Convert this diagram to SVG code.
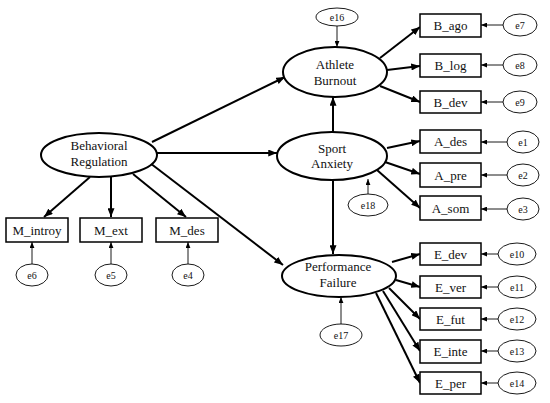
<svg xmlns="http://www.w3.org/2000/svg" width="550" height="403" viewBox="0 0 550 403">
<defs>
<marker id="ah" viewBox="0 0 10 8" refX="10" refY="4" markerWidth="9" markerHeight="7" markerUnits="userSpaceOnUse" orient="auto"><path d="M0,0 L10,4 L0,8 z" fill="#000"/></marker>
<marker id="as" viewBox="0 0 10 8" refX="10" refY="4" markerWidth="6" markerHeight="5" markerUnits="userSpaceOnUse" orient="auto"><path d="M0,0 L10,4 L0,8 z" fill="#000"/></marker>
<style>
.lat{fill:#fff;stroke:#000;stroke-width:2}
.box{fill:#fff;stroke:#000;stroke-width:1.5}
.err{fill:#fff;stroke:#000;stroke-width:0.9}
text{font-family:'Liberation Serif','DejaVu Serif',serif;fill:#111;text-anchor:middle}
.t{font-size:13px}
.te{font-size:10px}
.m{stroke:#000;stroke-width:2;fill:none;marker-end:url(#ah)}
.s{stroke:#000;stroke-width:0.9;fill:none;marker-end:url(#as)}
</style>
</defs>
<rect width="550" height="403" fill="#fff"/>
<g id="connectors">
<line class="m" x1="152" y1="142" x2="285" y2="77"/>
<line class="m" x1="157" y1="153" x2="277" y2="153"/>
<line class="m" x1="150" y1="163" x2="283" y2="265"/>
<line class="m" x1="90" y1="177" x2="44" y2="217"/>
<line class="m" x1="111" y1="177" x2="111" y2="217"/>
<line class="m" x1="133" y1="174" x2="186" y2="217"/>
<line class="m" x1="333" y1="132" x2="333" y2="97"/>
<line class="m" x1="333" y1="180" x2="333" y2="254"/>
<line class="m" x1="380" y1="58" x2="420" y2="27"/>
<line class="m" x1="387" y1="70" x2="420" y2="66"/>
<line class="m" x1="380" y1="86" x2="420" y2="102"/>
<line class="m" x1="387" y1="148" x2="420" y2="141"/>
<line class="m" x1="385" y1="162" x2="420" y2="174"/>
<line class="m" x1="377" y1="170" x2="420" y2="208"/>
<line class="m" x1="392" y1="262" x2="420" y2="254"/>
<line class="m" x1="396" y1="280" x2="420" y2="287"/>
<line class="m" x1="389" y1="288" x2="420" y2="319"/>
<line class="m" x1="383" y1="291" x2="420" y2="351"/>
<line class="m" x1="376" y1="293" x2="420" y2="383"/>
<line class="s" x1="337" y1="26" x2="337" y2="47"/>
<line class="s" x1="368" y1="194" x2="368" y2="179"/>
<line class="s" x1="341" y1="324" x2="341" y2="297"/>
<line class="s" x1="32" y1="264" x2="32" y2="242"/>
<line class="s" x1="111" y1="264" x2="111" y2="242"/>
<line class="s" x1="188" y1="264" x2="188" y2="242"/>
<line class="s" x1="503" y1="25" x2="481" y2="25"/>
<line class="s" x1="503" y1="65" x2="481" y2="65"/>
<line class="s" x1="503" y1="102" x2="481" y2="102"/>
<line class="s" x1="507" y1="142" x2="481" y2="142"/>
<line class="s" x1="507" y1="175" x2="481" y2="175"/>
<line class="s" x1="507" y1="209" x2="481" y2="209"/>
<line class="s" x1="498" y1="254" x2="481" y2="254"/>
<line class="s" x1="498" y1="287" x2="481" y2="287"/>
<line class="s" x1="498" y1="319" x2="481" y2="319"/>
<line class="s" x1="498" y1="351" x2="481" y2="351"/>
<line class="s" x1="498" y1="383" x2="481" y2="383"/>
</g>
<g id="behavioral"><ellipse class="lat" cx="99" cy="155" rx="58" ry="22"/><text class="t" x="99" y="149.5">Behavioral</text><text class="t" x="99" y="165.5">Regulation</text></g>
<g id="burnout"><ellipse class="lat" cx="335" cy="72" rx="52" ry="25"/><text class="t" x="335" y="68.5">Athlete</text><text class="t" x="335" y="84.5">Burnout</text></g>
<g id="anxiety"><ellipse class="lat" cx="332" cy="156" rx="55" ry="24"/><text class="t" x="332" y="152.5">Sport</text><text class="t" x="332" y="168">Anxiety</text></g>
<g id="failure"><ellipse class="lat" cx="339" cy="276" rx="57" ry="21"/><text class="t" x="338" y="270.5">Performance</text><text class="t" x="338" y="287">Failure</text></g>
<g id="M_introy"><rect class="box" x="6" y="218" width="62" height="24"/><text class="t" x="37" y="234.5">M_introy</text></g>
<g id="M_ext"><rect class="box" x="80" y="218" width="62" height="24"/><text class="t" x="111" y="234.5">M_ext</text></g>
<g id="M_des"><rect class="box" x="156" y="218" width="62" height="24"/><text class="t" x="187" y="234.5">M_des</text></g>
<g id="B_ago"><rect class="box" x="420" y="14" width="61" height="23"/><text class="t" x="450.5" y="30">B_ago</text></g>
<g id="B_log"><rect class="box" x="420" y="54" width="61" height="23"/><text class="t" x="450.5" y="70">B_log</text></g>
<g id="B_dev"><rect class="box" x="420" y="91" width="61" height="22"/><text class="t" x="450.5" y="106.5">B_dev</text></g>
<g id="A_des"><rect class="box" x="420" y="130" width="61" height="23"/><text class="t" x="450.5" y="146">A_des</text></g>
<g id="A_pre"><rect class="box" x="420" y="163" width="61" height="24"/><text class="t" x="450.5" y="179.5">A_pre</text></g>
<g id="A_som"><rect class="box" x="420" y="196" width="61" height="24"/><text class="t" x="450.5" y="212.5">A_som</text></g>
<g id="E_dev"><rect class="box" x="420" y="243" width="61" height="22"/><text class="t" x="450.5" y="258.5">E_dev</text></g>
<g id="E_ver"><rect class="box" x="420" y="276" width="61" height="22"/><text class="t" x="450.5" y="291.5">E_ver</text></g>
<g id="E_fut"><rect class="box" x="420" y="308" width="61" height="22"/><text class="t" x="450.5" y="323.5">E_fut</text></g>
<g id="E_inte"><rect class="box" x="420" y="340" width="61" height="23"/><text class="t" x="450.5" y="356">E_inte</text></g>
<g id="E_per"><rect class="box" x="420" y="372" width="61" height="22"/><text class="t" x="450.5" y="387.5">E_per</text></g>
<g id="e16"><ellipse class="err" cx="337" cy="17" rx="21" ry="9"/><text class="te" x="337" y="20.5">e16</text></g>
<g id="e18"><ellipse class="err" cx="368" cy="205" rx="20" ry="11"/><text class="te" x="368" y="208.5">e18</text></g>
<g id="e17"><ellipse class="err" cx="341" cy="335" rx="21" ry="11"/><text class="te" x="341" y="338.5">e17</text></g>
<g id="e6"><ellipse class="err" cx="32" cy="275" rx="16" ry="11"/><text class="te" x="32" y="278.5">e6</text></g>
<g id="e5"><ellipse class="err" cx="111" cy="275" rx="16" ry="11"/><text class="te" x="111" y="278.5">e5</text></g>
<g id="e4"><ellipse class="err" cx="188" cy="275" rx="16" ry="11"/><text class="te" x="188" y="278.5">e4</text></g>
<g id="e7"><ellipse class="err" cx="520" cy="25" rx="17" ry="11"/><text class="te" x="520" y="28.5">e7</text></g>
<g id="e8"><ellipse class="err" cx="520" cy="65" rx="17" ry="11"/><text class="te" x="520" y="68.5">e8</text></g>
<g id="e9"><ellipse class="err" cx="520" cy="102" rx="17" ry="11"/><text class="te" x="520" y="105.5">e9</text></g>
<g id="e1"><ellipse class="err" cx="523" cy="142" rx="16" ry="11"/><text class="te" x="523" y="145.5">e1</text></g>
<g id="e2"><ellipse class="err" cx="523" cy="175" rx="16" ry="11"/><text class="te" x="523" y="178.5">e2</text></g>
<g id="e3"><ellipse class="err" cx="523" cy="209" rx="16" ry="11"/><text class="te" x="523" y="212.5">e3</text></g>
<g id="e10"><ellipse class="err" cx="517" cy="254" rx="19" ry="11"/><text class="te" x="517" y="257.5">e10</text></g>
<g id="e11"><ellipse class="err" cx="517" cy="287" rx="19" ry="11"/><text class="te" x="517" y="290.5">e11</text></g>
<g id="e12"><ellipse class="err" cx="517" cy="319" rx="19" ry="11"/><text class="te" x="517" y="322.5">e12</text></g>
<g id="e13"><ellipse class="err" cx="517" cy="351" rx="19" ry="11"/><text class="te" x="517" y="354.5">e13</text></g>
<g id="e14"><ellipse class="err" cx="517" cy="383" rx="19" ry="11"/><text class="te" x="517" y="386.5">e14</text></g>
</svg>
